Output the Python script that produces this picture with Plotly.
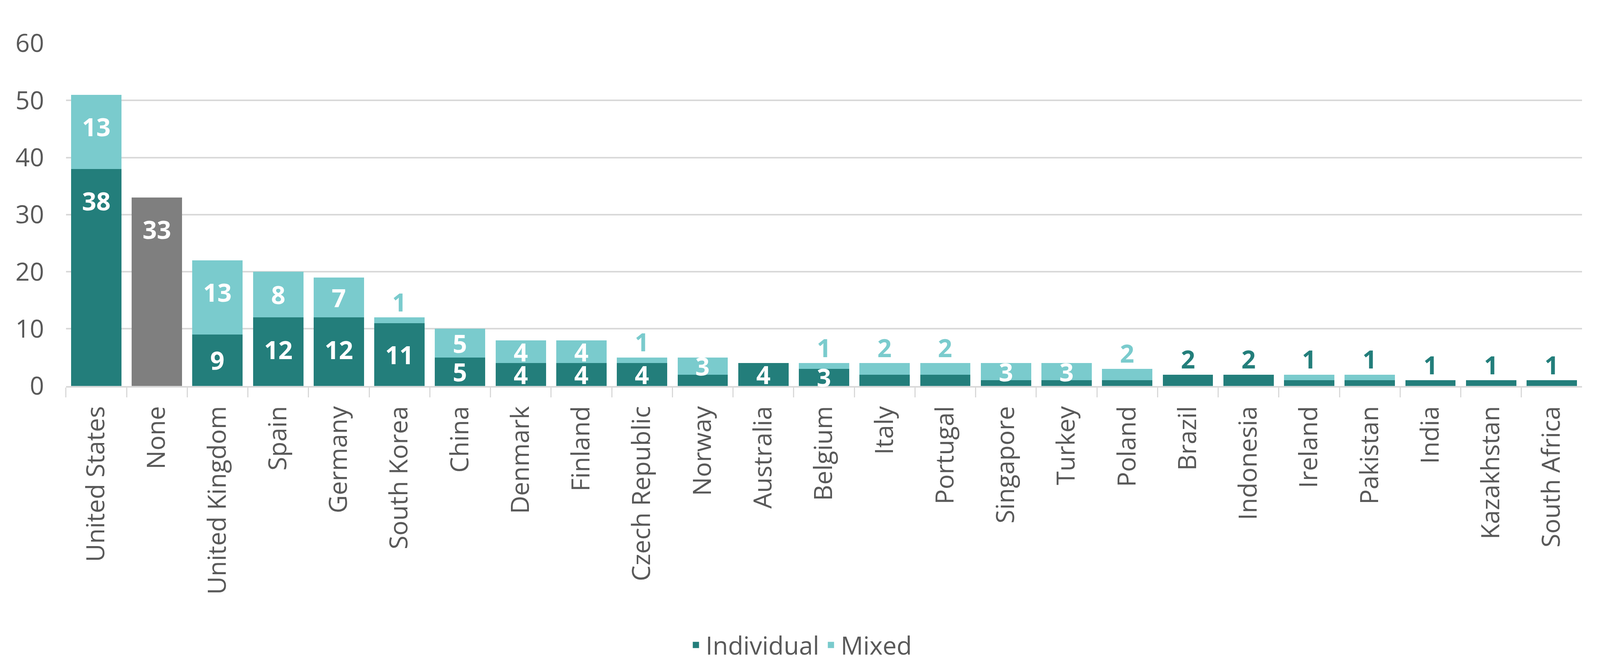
import plotly.graph_objects as go

categories = ["United States", "None", "United Kingdom", "Spain", "Germany", "South Korea",
              "China", "Denmark", "Finland", "Czech Republic", "Norway", "Australia",
              "Belgium", "Italy", "Portugal", "Singapore", "Turkey", "Poland", "Brazil",
              "Indonesia", "Ireland", "Pakistan", "India", "Kazakhstan", "South Africa"]
individual = [38, None, 9, 12, 12, 11, 5, 4, 4, 4, 2, 4, 3, 2, 2, 1, 1, 1, 2, 2, 1, 1, 1, 1, 1]
mixed = [13, None, 13, 8, 7, 1, 5, 4, 4, 1, 3, None, 1, 2, 2, 3, 3, 2, None, None, 1, 1, None, None, None]
none_vals = [None, 33] + [None] * 23
series_names = ["Individual", "Mixed"]

# label placement: "in" = inside bar, "out" = above bar, "" = no label
ind_label = ["in", "", "in", "in", "in", "in", "in", "in", "in", "in", "", "in", "in",
             "", "", "", "", "", "out", "out", "out", "out", "out", "out", "out"]
mix_label = ["in", "", "in", "in", "in", "out", "in", "in", "in", "out", "in", "", "out",
             "out", "out", "in", "in", "out", "", "", "", "", "", "", ""]
none_label = ["", "in"] + [""] * 23

DARK = "#237E7B"
LIGHT = "#7ACBCD"
GRAY = "#7F7F7F"
TXT = "#595959"
FONT = "Open Sans"

fig = go.Figure()
fig.add_trace(go.Bar(x=categories, y=individual, name=series_names[0], marker_color=DARK,
                     marker_line_width=0, showlegend=False))
fig.add_trace(go.Bar(x=categories, y=mixed, name=series_names[1], marker_color=LIGHT,
                     marker_line_width=0, showlegend=False))
fig.add_trace(go.Bar(x=categories, y=none_vals, name="None", marker_color=GRAY,
                     marker_line_width=0, showlegend=False))
# legend entries with square swatches
for nm, col in zip(series_names, [DARK, LIGHT]):
    fig.add_trace(go.Scatter(x=[None], y=[None], mode="markers", name=nm,
                             marker=dict(symbol="square", size=40, color=col,
                                         line=dict(width=0))))

annotations = []
def add_label(cat, base, val, mode, color, top_total):
    if not mode or val is None:
        return
    top = base + val
    if mode == "in":
        y = top - min(5.6, val / 2.0)
        annotations.append(dict(x=cat, y=y, text=str(val), showarrow=False,
                                xref="x", yref="y", yanchor="middle",
                                font=dict(family=FONT, size=64, color="white", weight="bold")))
    else:
        annotations.append(dict(x=cat, y=top_total, text=str(val), showarrow=False,
                                xref="x", yref="y", yanchor="middle", yshift=40,
                                font=dict(family=FONT, size=64, color=color, weight="bold")))

for i, c in enumerate(categories):
    ind = individual[i] or 0
    mix = mixed[i] or 0
    total = ind + mix
    add_label(c, 0, individual[i], ind_label[i], DARK, total)
    add_label(c, ind, mixed[i], mix_label[i], LIGHT, total)
    add_label(c, 0, none_vals[i], none_label[i], GRAY, none_vals[i] or 0)

W, H = 4315.0, 1719.0
fig.update_layout(
    autosize=True,
    barmode="stack", bargap=0.17,
    plot_bgcolor="white", paper_bgcolor="white",
    margin=dict(l=0, r=0, t=0, b=0, pad=0),
    font=dict(family=FONT, color=TXT),
    annotations=annotations,
    legend=dict(orientation="h", x=0.5, xanchor="center", y=(H - 1660) / H, yanchor="middle",
                font=dict(family=FONT, size=64, color=TXT), traceorder="normal",
                itemwidth=40),
    showlegend=True,
)
fig.update_yaxes(range=[0, 60], dtick=10, showgrid=True, gridcolor="#D9D9D9", gridwidth=4,
                 zeroline=False, showline=False, automargin=False,
                 domain=[(H - 990) / H, (H - 104) / H],
                 tickfont=dict(family=FONT, size=64, color=TXT), ticklabelstandoff=55)
fig.update_xaxes(showgrid=False, showline=True, linecolor="#D9D9D9", linewidth=4,
                 ticks="outside", tickson="boundaries", ticklen=25, tickwidth=3,
                 tickcolor="#D9D9D9", tickangle=-90, automargin=False,
                 domain=[170 / W, 4275 / W],
                 tickfont=dict(family=FONT, size=64, color=TXT), ticklabelstandoff=22)

fig.write_html("out.html", include_plotlyjs=True, full_html=True,
               default_width="100%", default_height="100%")
